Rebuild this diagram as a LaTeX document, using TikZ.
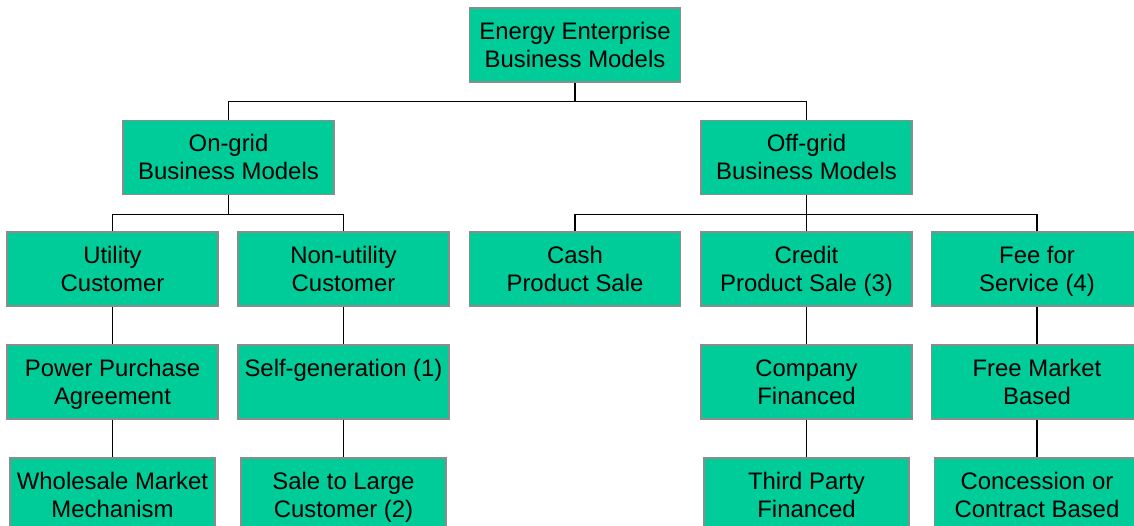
\documentclass[tikz,border=0pt]{standalone}
\usepackage{fontspec}
\setmainfont{Liberation Sans}
\usetikzlibrary{positioning}

\definecolor{modelgreen}{HTML}{00CC99}
\definecolor{boxline}{HTML}{8C8C8C}

\tikzset{
  model/.style={draw=boxline, line width=0.9pt, fill=modelgreen, align=center,
    minimum width=4.22cm, minimum height=1.48cm, inner sep=0pt,
    font=\fontsize{13.6}{16}\selectfont,
    % same height and depth for every two-line label
    execute at begin node={\rule{0pt}{30.2pt}}, execute at end node=\strut},
  leaf/.style={model, minimum width=4.1cm},
  link/.style={draw=black, line width=0.7pt}
}

\begin{document}
\begin{tikzpicture}[x=0.02cm, y=-0.02cm]
\useasboundingbox (0,0) rectangle (1134,526);
\clip (0,0) rectangle (1134,526);

% top level
\node[model] (root) at (575,45) {Energy Enterprise\\Business Models};

% grid split
\node[model] (ongrid)  at (228.5,157.5) {On-grid\\Business Models};
\node[model] (offgrid) at (806.5,157.5) {Off-grid\\Business Models};

% customer / sale type
\node[model] (util)    at (112.5,269) {Utility\\Customer};
\node[model] (nonutil) at (343.5,269) {Non-utility\\Customer};
\node[model] (cash)    at (575,269)   {Cash\\Product Sale};
\node[model] (credit)  at (806.5,269) {Credit\\Product Sale (3)};
\node[model] (fee)     at (1037,269)  {Fee for\\Service (4)};

% arrangements
\node[model] (ppa)     at (112.5,382) {Power Purchase\\Agreement};
\node[model] (selfgen) at (343.5,382) {Self-generation (1)\\\phantom{X}};
\node[model] (company) at (806.5,382) {Company\\Financed};
\node[model] (free)    at (1037,382)  {Free Market\\Based};

% bottom row
\node[leaf] (wholesale)  at (112.5,495) {Wholesale Market\\Mechanism};
\node[leaf] (sale)       at (343.5,495) {Sale to Large\\Customer (2)};
\node[leaf] (third)      at (806.5,495) {Third Party\\Financed};
\node[leaf] (concession) at (1037,495)  {Concession or\\Contract Based};

% tree connectors
\foreach \c in {ongrid,offgrid}
  \draw[link] (root.south) -- ++(0,-0.37cm) -| (\c.north);
\foreach \c in {util,nonutil}
  \draw[link] (ongrid.south) -- ++(0,-0.38cm) -| (\c.north);
\foreach \c in {cash,credit,fee}
  \draw[link] (offgrid.south) -- ++(0,-0.38cm) -| (\c.north);

\foreach \a/\b in {util/ppa,ppa/wholesale,nonutil/selfgen,selfgen/sale,
                   credit/company,company/third,fee/free,free/concession}
  \draw[link] (\a.south) -- (\b.north);
\end{tikzpicture}
\end{document}
